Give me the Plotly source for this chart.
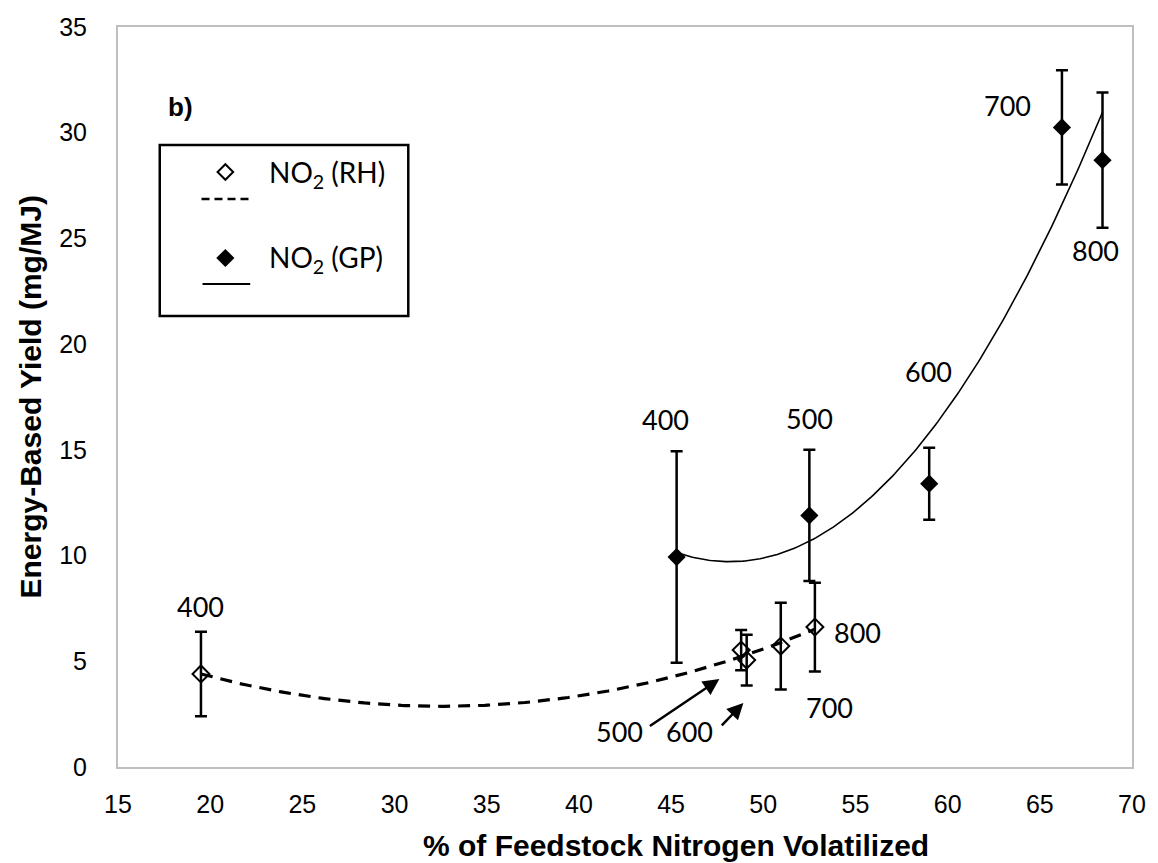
import numpy as np
import plotly.graph_objects as go

# ---------------- data ----------------
rh_temp = ["400", "500", "600", "700", "800"]
rh_x = [19.5, 48.8, 49.1, 50.95, 52.8]
rh_y = [4.4, 5.53, 5.06, 5.72, 6.62]
rh_err = [2.0, 0.95, 1.2, 2.05, 2.1]

gp_temp = ["400", "500", "600", "700", "800"]
gp_x = [45.3, 52.5, 59.0, 66.2, 68.4]
gp_y = [9.93, 11.9, 13.4, 30.25, 28.7]
gp_err = [5.0, 3.1, 1.7, 2.7, 3.2]

x_ticks = [15, 20, 25, 30, 35, 40, 45, 50, 55, 60, 65, 70]
y_ticks = [0, 5, 10, 15, 20, 25, 30, 35]

# label offsets in px (style)
rh_label_off = [(0, 67), None, None, (49, -61), (43, -5)]
gp_label_off = [(-11, 138), (0, 97), (-1, 112), (-54, 22), (-7, -90)]
# arrow-labelled points: label text, arrow head (data), tail offset px
arrow_labels = [("500", 47.62, 4.16, -71, 48), ("600", 48.92, 3.03, -23, 24)]

# ---------------- layout geometry ----------------
W, H = 1158, 863
L, R, T, B = 118, 1138, 27, 767


def px(x):
    return (x - L) / (R - L)


def py(y):
    return (B - y) / (B - T)


LABEL_FONT = dict(family="Lato, Liberation Sans, Arial", size=27, color="black")
TICK_FONT = dict(family="Liberation Sans, Arial", size=25, color="black")
TITLE_FONT = dict(family="Liberation Sans, Arial", size=30, color="black")

fig = go.Figure()

# trend lines (2nd-order polynomial fits, as in the original spreadsheet chart)
rh_c = np.polyfit(rh_x, rh_y, 2)
rh_fx = np.linspace(min(rh_x), max(rh_x), 200)
fig.add_trace(go.Scatter(x=rh_fx, y=np.polyval(rh_c, rh_fx), mode="lines",
                         line=dict(color="black", width=3.2, dash="12px,8px"),
                         hoverinfo="skip", showlegend=False))

gp_c = np.polyfit(gp_x, gp_y, 2)
gp_fx = np.linspace(min(gp_x), max(gp_x), 200)
fig.add_trace(go.Scatter(x=gp_fx, y=np.polyval(gp_c, gp_fx), mode="lines",
                         line=dict(color="black", width=1.6),
                         hoverinfo="skip", showlegend=False))

# data with error bars
fig.add_trace(go.Scatter(
    x=rh_x, y=rh_y, mode="markers", name="NO2 (RH)",
    marker=dict(symbol="diamond-open", size=13, color="black", line=dict(width=2, color="black")),
    error_y=dict(type="data", array=rh_err, visible=True, color="black", thickness=2.5, width=6),
    showlegend=False))
fig.add_trace(go.Scatter(
    x=gp_x, y=gp_y, mode="markers", name="NO2 (GP)",
    marker=dict(symbol="diamond", size=14, color="black"),
    error_y=dict(type="data", array=gp_err, visible=True, color="black", thickness=2.5, width=6),
    showlegend=False))

annotations = []
for t, x, y, off in zip(rh_temp, rh_x, rh_y, rh_label_off):
    if off is None:
        continue
    annotations.append(dict(x=x, y=y, xref="x", yref="y", text=t, showarrow=False,
                            xanchor="center", yanchor="middle",
                            xshift=off[0], yshift=off[1], font=LABEL_FONT))
for t, x, y, off in zip(gp_temp, gp_x, gp_y, gp_label_off):
    annotations.append(dict(x=x, y=y, xref="x", yref="y", text=t, showarrow=False,
                            xanchor="center", yanchor="middle",
                            xshift=off[0], yshift=off[1], font=LABEL_FONT))
for t, hx, hy, ax, ay in arrow_labels:
    annotations.append(dict(x=hx, y=hy, xref="x", yref="y", text="", showarrow=True,
                            ax=ax, ay=ay, arrowhead=2, arrowsize=1.3, arrowwidth=2.5,
                            arrowcolor="black", standoff=0, startstandoff=0))
# arrow texts at tails
annotations.append(dict(x=px(622), y=py(731), xref="paper", yref="paper", text="500",
                        xanchor="center", yanchor="middle", showarrow=False, font=LABEL_FONT))
annotations.append(dict(x=px(693), y=py(731), xref="paper", yref="paper", text="600",
                        xanchor="center", yanchor="middle", showarrow=False, font=LABEL_FONT))

# panel tag
annotations.append(dict(x=px(181), y=py(107), xref="paper", yref="paper", text="<b>b)</b>",
                        xanchor="center", yanchor="middle", showarrow=False,
                        font=dict(family="Liberation Sans, Arial", size=26, color="black")))

# legend (custom box)
shapes = [
    dict(type="rect", xref="paper", yref="paper", x0=px(160), x1=px(410), y0=py(316), y1=py(145),
         line=dict(color="black", width=2.5), fillcolor="white", layer="below"),
    dict(type="line", xref="paper", yref="paper", x0=px(202), x1=px(250), y0=py(199), y1=py(199),
         line=dict(color="black", width=2.5, dash="8px,5px")),
    dict(type="line", xref="paper", yref="paper", x0=px(203), x1=px(251), y0=py(284), y1=py(284),
         line=dict(color="black", width=2)),
]
fig.add_trace(go.Scatter(x=[px(226)], y=[py(172)], xaxis="x2", yaxis="y2", mode="markers",
                         marker=dict(symbol="diamond-open", size=12, color="black", line=dict(width=2)),
                         hoverinfo="skip", showlegend=False))
fig.add_trace(go.Scatter(x=[px(226)], y=[py(258)], xaxis="x2", yaxis="y2", mode="markers",
                         marker=dict(symbol="diamond", size=14, color="black"),
                         hoverinfo="skip", showlegend=False))
LEG_FONT = dict(family="Lato, Liberation Sans", size=28, color="black")
annotations.append(dict(x=px(268), y=py(174), xref="paper", yref="paper", xanchor="left",
                        yanchor="middle", text="NO<sub>2</sub> (RH)", showarrow=False, font=LEG_FONT))
annotations.append(dict(x=px(268), y=py(259), xref="paper", yref="paper", xanchor="left",
                        yanchor="middle", text="NO<sub>2</sub> (GP)", showarrow=False, font=LEG_FONT))

# axis titles
annotations.append(dict(x=px(679), y=py(846), xref="paper", yref="paper", showarrow=False,
                        xanchor="center", yanchor="middle",
                        text="<b>% of Feedstock Nitrogen Volatilized</b>", font=TITLE_FONT))
annotations.append(dict(x=px(29), y=py(397), xref="paper", yref="paper", showarrow=False,
                        xanchor="center", yanchor="middle",
                        text="<b>Energy-Based Yield (mg/MJ)</b>", textangle=-90, font=TITLE_FONT))

fig.update_layout(
    width=W, height=H,
    margin=dict(l=L, r=W - R, t=T, b=H - B),
    paper_bgcolor="white", plot_bgcolor="white",
    showlegend=False,
    xaxis=dict(range=[15, 70], tickvals=x_ticks, ticktext=[str(v) for v in x_ticks],
               showgrid=False, zeroline=False, showline=True, linecolor="#BFBFBF", linewidth=2,
               mirror=True, ticks="", tickfont=TICK_FONT, ticklabelstandoff=14),
    yaxis=dict(range=[0, 35], tickvals=y_ticks, ticktext=[str(v) for v in y_ticks],
               showgrid=False, zeroline=False, showline=True, linecolor="#BFBFBF", linewidth=2,
               mirror=True, ticks="", tickfont=TICK_FONT, ticklabelstandoff=24),
    xaxis2=dict(range=[0, 1], overlaying="x", visible=False, domain=[0, 1]),
    yaxis2=dict(range=[0, 1], overlaying="y", visible=False),
    annotations=annotations,
    shapes=shapes,
)

fig.write_html("out.html")
